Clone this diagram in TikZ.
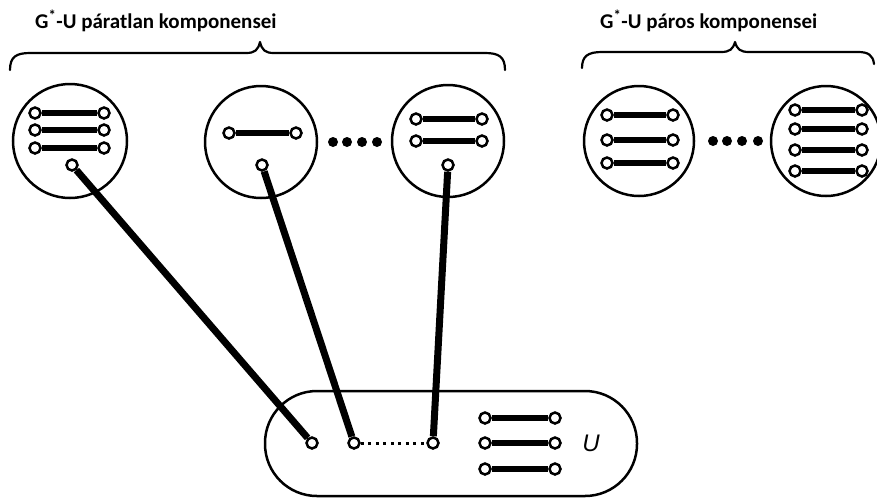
\documentclass[tikz,border=0pt]{standalone}
\usepackage{fontspec}
\newfontfamily\titlefont{Carlito}
\newfontfamily\labelfont{Liberation Sans}
\begin{document}
\begin{tikzpicture}[x=1pt,y=-1pt,
  comp/.style={circle, draw, line width=2.5pt, inner sep=0pt},
  vtx/.style={circle, draw, fill=white, line width=2.5pt, inner sep=0pt, minimum size=11pt},
  edge/.style={line width=6pt},
  link/.style={line width=7pt},
  blob/.style={circle, fill=black, inner sep=0pt, minimum size=10pt},
  bracepath/.style={line width=2.2pt, line cap=round, line join=round},
  title/.style={font=\titlefont\bfseries\fontsize{21}{24}\selectfont, anchor=base west, inner sep=0pt}]
\clip (0,0) rectangle (877,499);

% headings
\node[title] (t1) at (35,28) {G\textsuperscript{*}-U páratlan komponensei};
\node[title] (t2) at (600,28) {G\textsuperscript{*}-U páros komponensei};

% braces
\draw[bracepath] (10,70) .. controls (10,57) and (16,53) .. (30,53) -- (246,53)
  .. controls (255,53) and (258,50) .. (260,42) .. controls (262,50) and (265,53) .. (274,53)
  -- (485,53) .. controls (499,53) and (505,57) .. (505,70);
\draw[bracepath] (582,68) .. controls (582,56) and (588,52) .. (602,52) -- (721,52)
  .. controls (730,52) and (733,49) .. (735,42) .. controls (737,49) and (740,52) .. (749,52)
  -- (858,52) .. controls (868,52) and (873,55) .. (874,64);

% odd components
\node[comp, minimum size=114pt] (c1) at (70,141) {};
\node[comp, minimum size=112pt] (c2) at (261,142) {};
\node[comp, minimum size=112pt] (c3) at (448,141) {};
% even components
\node[comp, minimum size=110pt] (c4) at (639,141) {};
\node[comp, minimum size=110pt] (c5) at (826,141) {};

% the set U
\node[draw, line width=2.5pt, rounded corners=52pt, minimum width=372pt, minimum height=105pt] (U) at (451,443.5) {};
\node[font=\labelfont\itshape\fontsize{24}{24}\selectfont, inner sep=0pt] (ulabel) at (591,443) {U};

% matched edges inside the components
\foreach \y [count=\i] in {113,130,148} {
  \node[vtx] (a\i) at (35,\y) {}; \node[vtx] (b\i) at (104,\y) {};
  \draw[edge] (a\i) -- (b\i);
}
\node[vtx] (c2a) at (229,133) {}; \node[vtx] (c2b) at (296,133) {};
\draw[edge] (c2a) -- (c2b);
\foreach \y [count=\i] in {119,141} {
  \node[vtx] (d\i) at (416,\y) {}; \node[vtx] (e\i) at (482,\y) {};
  \draw[edge] (d\i) -- (e\i);
}
\foreach \y [count=\i] in {115,140,163} {
  \node[vtx] (f\i) at (607,\y) {}; \node[vtx] (g\i) at (673,\y) {};
  \draw[edge] (f\i) -- (g\i);
}
\foreach \y [count=\i] in {110,129,150,171} {
  \node[vtx] (h\i) at (795,\y) {}; \node[vtx] (k\i) at (862,\y) {};
  \draw[edge] (h\i) -- (k\i);
}
\foreach \y [count=\i] in {418,443,469} {
  \node[vtx] (m\i) at (485,\y) {}; \node[vtx] (n\i) at (555,\y) {};
  \draw[edge] (m\i) -- (n\i);
}

% ellipsis dots
\foreach \x [count=\i] in {333,347,362,377} \node[blob] (p\i) at (\x,142) {};
\foreach \x [count=\i] in {713,727,742,758} \node[blob] (q\i) at (\x,141) {};

% unmatched vertices and their partners in U
\node[vtx] (o1) at (72,165) {};
\node[vtx] (o2) at (262,165) {};
\node[vtx] (o3) at (448,165) {};
\node[vtx] (u1) at (312,443) {};
\node[vtx] (u2) at (354,443) {};
\node[vtx] (u3) at (433,443) {};
\draw[link] (o1) -- (u1);
\draw[link] (o2) -- (u2);
\draw[link] (o3) -- (u3);
\draw[line width=3pt, dash pattern=on 3pt off 4.5pt] (u2) -- (u3);
\end{tikzpicture}
\end{document}
